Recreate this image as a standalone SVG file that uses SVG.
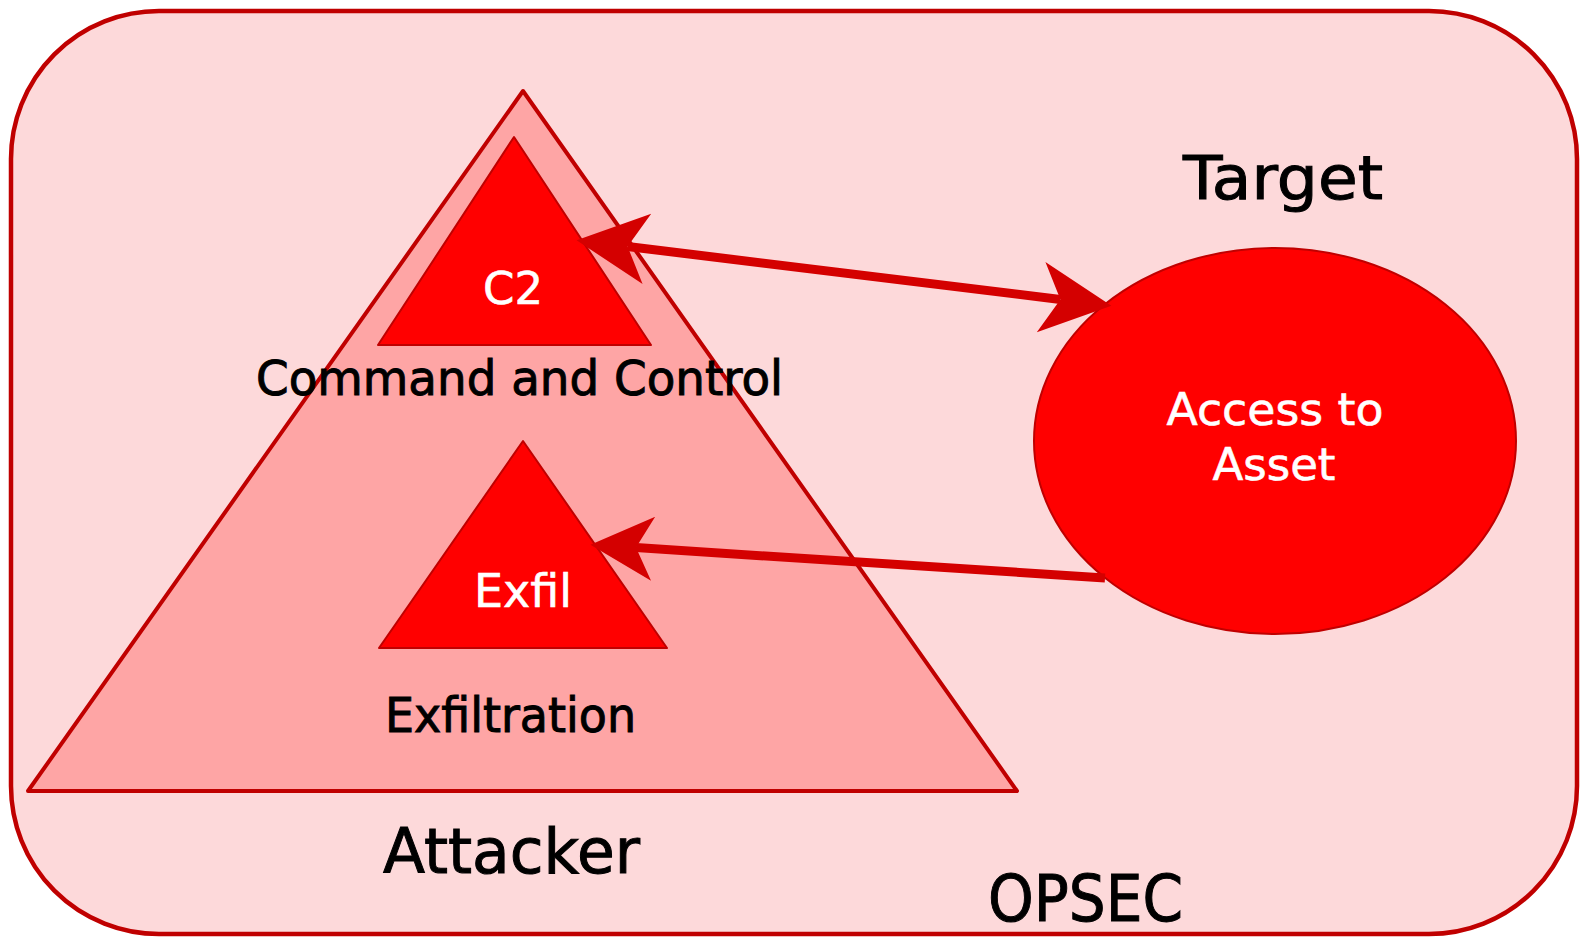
<svg xmlns="http://www.w3.org/2000/svg" width="1581" height="937" viewBox="0 0 1581 937">
  <style>
    .outer { fill: #fdd9da; stroke: #c00000; stroke-width: 4.5; }
    .big { fill: #fea5a5; stroke: #c00000; stroke-width: 4; stroke-linejoin: round; }
    .red { fill: #ff0000; stroke: #c00000; stroke-width: 2; stroke-linejoin: round; }
    .conn { fill: none; stroke: #d40000; }
    .lbl { font-family: "DejaVu Sans", "Liberation Sans", sans-serif; fill: #000000; stroke: #000000; stroke-width: 1; }
    .wht { font-family: "DejaVu Sans", "Liberation Sans", sans-serif; fill: #ffffff; stroke: #ffffff; stroke-width: 0.6; }
  </style>
  <defs>
    <marker id="headL" markerUnits="userSpaceOnUse" orient="auto-start-reverse" markerWidth="80" markerHeight="80" refX="0" refY="0" viewBox="-20 -35 70 70" overflow="visible">
      <path d="M45,0 L-17,-31 L0,0 L-17,31 Z" fill="#d40000"/>
    </marker>
    <marker id="headS" markerUnits="userSpaceOnUse" orient="auto-start-reverse" markerWidth="80" markerHeight="80" refX="0" refY="0" viewBox="-20 -35 70 70" overflow="visible">
      <path d="M40,0 L-15,-28 L0,0 L-15,28 Z" fill="#d40000"/>
    </marker>
  </defs>

  <g id="opsec">
    <rect class="outer" x="11" y="11" width="1566" height="923" rx="148" ry="148"/>
    <text class="lbl" x="988" y="921" font-size="64" font-family="Open Sans, sans-serif" textLength="195" lengthAdjust="spacingAndGlyphs">OPSEC</text>
  </g>

  <g id="attacker">
    <polygon class="big" points="523,91 1017,791 28,791"/>
    <text class="lbl" x="383" y="873" font-size="62" textLength="257" lengthAdjust="spacingAndGlyphs">Attacker</text>
  </g>

  <g id="c2">
    <polygon class="red" points="514,137 651,345 378,345"/>
    <text class="wht" x="513" y="304" font-size="45" text-anchor="middle">C2</text>
    <text class="lbl" x="256" y="395" font-size="48" textLength="527" lengthAdjust="spacingAndGlyphs">Command and Control</text>
  </g>

  <g id="exfil">
    <polygon class="red" points="523,441 667,648 379,648"/>
    <text class="wht" x="523" y="607" font-size="46" text-anchor="middle">Exfil</text>
    <text class="lbl" x="385" y="732" font-size="48" textLength="251" lengthAdjust="spacingAndGlyphs">Exfiltration</text>
  </g>

  <g id="target">
    <ellipse class="red" cx="1275" cy="441" rx="241" ry="193"/>
    <text class="wht" x="1275" y="425" font-size="45" text-anchor="middle" textLength="217" lengthAdjust="spacingAndGlyphs">Access to</text>
    <text class="wht" x="1274" y="480" font-size="45" text-anchor="middle" textLength="123" lengthAdjust="spacingAndGlyphs">Asset</text>
    <text class="lbl" x="1183" y="199" font-size="60" textLength="200" lengthAdjust="spacingAndGlyphs">Target</text>
  </g>

  <g id="connectors">
    <path class="conn" stroke-width="9" d="M627.6,246.5 L1060.4,299.5" marker-start="url(#headL)" marker-end="url(#headL)"/>
    <path class="conn" stroke-width="9" d="M1105,578 L636,547.6" marker-end="url(#headS)"/>
  </g>
</svg>
